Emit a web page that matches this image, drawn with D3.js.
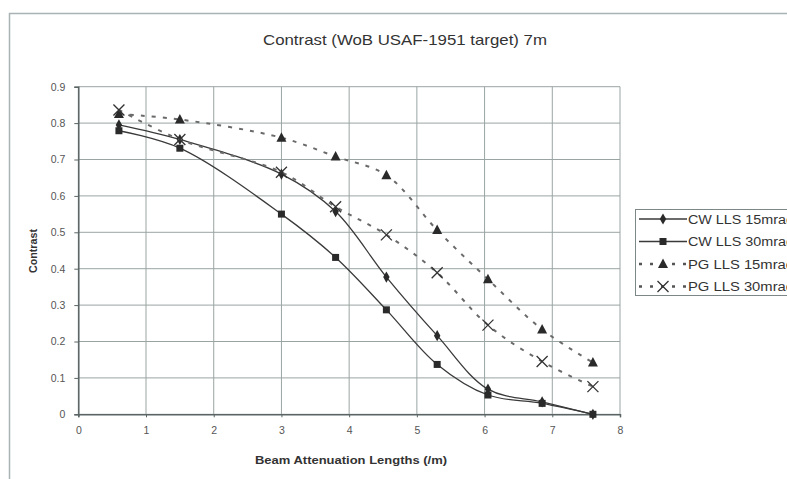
<!DOCTYPE html>
<html>
<head>
<meta charset="utf-8">
<style>
    body { margin: 0; background: #fff; }
    text { font-family: "Liberation Sans", Arial, sans-serif; }
    .grid line { stroke: #9aa5a3; stroke-width: 1; }
    .tick text { fill: #555; font-size: 10.5px; }
</style>
</head>
<body>
<div id="target"></div>
<script src="https://cdnjs.cloudflare.com/ajax/libs/d3/7.8.5/d3.min.js"></script>
<script>
    // values
    var attenuation = [0.6, 1.5, 3.0, 3.8, 4.55, 5.3, 6.05, 6.85, 7.6];
    var cw15 = [0.795, 0.755, 0.66, 0.557, 0.377, 0.216, 0.069, 0.034, 0.0];
    var cw30 = [0.779, 0.731, 0.55, 0.431, 0.287, 0.137, 0.053, 0.030, 0.0];
    var pg15 = [0.825, 0.81, 0.76, 0.708, 0.657, 0.506, 0.371, 0.233, 0.142];
    var pg30 = [0.836, 0.755, 0.665, 0.57, 0.493, 0.389, 0.245, 0.145, 0.076];
    var seriesNames = ['CW LLS 15mrad', 'CW LLS 30mrad', 'PG LLS 15mrad', 'PG LLS 30mrad'];
    var xTicks = [0, 1, 2, 3, 4, 5, 6, 7, 8];
    var yTicks = [0, 0.1, 0.2, 0.3, 0.4, 0.5, 0.6, 0.7, 0.8, 0.9];

    var width = 787, height = 479;
    var svg = d3.select('#target').append('svg')
        .attr('width', width)
        .attr('height', height);

    // outer chart frame (only top and left survive in the scan)
    svg.append('path')
        .attr('d', 'M9.5,479 L9.5,13.5 L787,13.5')
        .attr('fill', 'none')
        .attr('stroke', '#a9b3b3')
        .attr('stroke-width', 1.5);

    var x = d3.scaleLinear().domain([0, 8]).range([78.3, 620]);
    var y = d3.scaleLinear().domain([0, 0.9]).range([414.3, 86.7]);

    // grid
    var grid = svg.append('g').attr('class', 'grid');
    grid.selectAll('line.h').data(yTicks).enter().append('line')
        .attr('x1', x(0)).attr('x2', x(8))
        .attr('y1', function (d) { return y(d); })
        .attr('y2', function (d) { return y(d); });
    grid.selectAll('line.v').data(xTicks).enter().append('line')
        .attr('y1', y(0)).attr('y2', y(0.9))
        .attr('x1', function (d) { return x(d); })
        .attr('x2', function (d) { return x(d); });

    // axes
    var xAxis = svg.append('g')
        .attr('transform', 'translate(0,' + y(0) + ')')
        .call(d3.axisBottom(x).tickValues(xTicks).tickSize(3).tickPadding(9).tickFormat(d3.format('d')));
    var yAxis = svg.append('g')
        .attr('transform', 'translate(' + x(0) + ',0)')
        .call(d3.axisLeft(y).tickValues(yTicks).tickSize(4).tickPadding(9)
            .tickFormat(function (d) { return d === 0 ? '0' : d3.format('.1f')(d); }));
    [xAxis, yAxis].forEach(function (a) {
        a.select('.domain').attr('stroke', '#5a6464').attr('stroke-width', 1.5);
        a.selectAll('.tick line').attr('stroke', '#5a6464');
    });

    // series
    var series = [
        {name: seriesNames[0], values: cw15, marker: 'diamond', dashed: false},
        {name: seriesNames[1], values: cw30, marker: 'square', dashed: false},
        {name: seriesNames[2], values: pg15, marker: 'triangle', dashed: true},
        {name: seriesNames[3], values: pg30, marker: 'cross', dashed: true}
    ];

    var line = d3.line()
        .x(function (d) { return x(d[0]); })
        .y(function (d) { return y(d[1]); })
        .curve(d3.curveCatmullRom.alpha(0.5));

    var drawMarker = function (g, type) {
        if (type === 'diamond') {
            g.append('path').attr('d', d3.symbol().type(d3.symbolDiamond).size(36)).attr('fill', '#2a2a2a');
        } else if (type === 'square') {
            g.append('rect').attr('x', -3.5).attr('y', -3.5).attr('width', 7).attr('height', 7).attr('fill', '#2a2a2a');
        } else if (type === 'triangle') {
            g.append('path').attr('d', 'M0,-5.5 L5,4 L-5,4 Z').attr('fill', '#2a2a2a');
        } else {
            g.append('path').attr('d', 'M-5.5,-5.5 L5.5,5.5 M-5.5,5.5 L5.5,-5.5')
                .attr('stroke', '#333').attr('stroke-width', 1.3).attr('fill', 'none');
        }
    };

    series.forEach(function (s) {
        var pts = attenuation.map(function (a, i) { return [a, s.values[i]]; });
        svg.append('path')
            .datum(pts)
            .attr('d', line)
            .attr('fill', 'none')
            .attr('stroke', s.dashed ? '#6a6a6a' : '#3a3a3a')
            .attr('stroke-width', s.dashed ? 2 : 1.3)
            .attr('stroke-dasharray', s.dashed ? '4,7' : null);
        svg.append('g').selectAll('g').data(pts).enter().append('g')
            .attr('transform', function (d) { return 'translate(' + x(d[0]) + ',' + y(d[1]) + ')'; })
            .each(function () { drawMarker(d3.select(this), s.marker); });
    });

    // titles
    svg.append('text')
        .attr('x', 405).attr('y', 45)
        .attr('text-anchor', 'middle')
        .attr('font-size', 15)
        .attr('fill', '#333')
        .attr('textLength', 284)
        .attr('lengthAdjust', 'spacingAndGlyphs')
        .text('Contrast (WoB USAF-1951 target) 7m');
    svg.append('text')
        .attr('x', 351).attr('y', 464)
        .attr('text-anchor', 'middle')
        .attr('font-size', 11)
        .attr('font-weight', 'bold')
        .attr('fill', '#333')
        .attr('textLength', 192)
        .attr('lengthAdjust', 'spacingAndGlyphs')
        .text('Beam Attenuation Lengths (/m)');
    svg.append('text')
        .attr('transform', 'translate(37,251) rotate(-90)')
        .attr('text-anchor', 'middle')
        .attr('font-size', 11)
        .attr('font-weight', 'bold')
        .attr('fill', '#333')
        .attr('textLength', 44)
        .attr('lengthAdjust', 'spacingAndGlyphs')
        .text('Contrast');

    // legend
    var legend = svg.append('g').attr('transform', 'translate(635,209)');
    legend.append('rect')
        .attr('x', 0.5).attr('y', 0.5)
        .attr('width', 200).attr('height', 86)
        .attr('fill', '#fff')
        .attr('stroke', '#7d8787');
    var items = legend.selectAll('g.item').data(series).enter().append('g')
        .attr('transform', function (d, i) { return 'translate(0,' + (10 + i * 22.5) + ')'; });
    items.append('line')
        .attr('x1', 4).attr('x2', 52)
        .attr('stroke', function (d) { return d.dashed ? '#555' : '#3a3a3a'; })
        .attr('stroke-width', function (d) { return d.dashed ? 2.5 : 1.3; })
        .attr('stroke-dasharray', function (d) { return d.dashed ? '3,8' : null; });
    items.append('g')
        .attr('transform', 'translate(28,0)')
        .each(function (d) { drawMarker(d3.select(this), d.marker); });
    items.append('text')
        .attr('x', 53).attr('y', 4.5)
        .attr('font-size', 12)
        .attr('fill', '#333')
        .attr('textLength', 106)
        .attr('lengthAdjust', 'spacingAndGlyphs')
        .text(function (d) { return d.name; });
</script>
</body>
</html>
